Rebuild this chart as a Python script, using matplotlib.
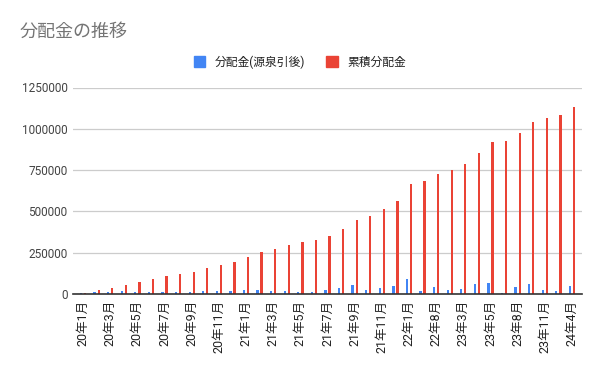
import matplotlib
matplotlib.use("Agg")
import matplotlib.pyplot as plt
from matplotlib.patches import Patch
import numpy as np

plt.rcParams['font.family'] = ['Roboto', 'Noto Sans CJK JP', 'DejaVu Sans']

categories = (
    [f"20年{m}月" for m in range(1, 13)]
    + [f"21年{m}月" for m in range(1, 13)]
    + ["22年1月", "22年4月", "22年8月", "22年12月", "23年3月", "23年4月",
       "23年5月", "23年7月", "23年8月", "23年10月", "23年11月", "24年1月", "24年4月"]
)

dividend = [6100, 12300, 12300, 18400, 12300, 12300, 12300, 12300, 12300, 18400,
            18400, 18400, 24600, 24600, 18400, 18400, 12300, 12300, 24600, 36900,
            55300, 24600, 36900, 49200, 92200, 18400, 43000, 24600, 30700, 61500,
            67600, 6100, 43000, 61500, 24600, 18400, 49200]

cumulative = [6000, 24600, 36900, 55300, 73800, 92200, 110600, 123000, 135200, 159800,
              178300, 196700, 221300, 252000, 270500, 295000, 313500, 325800, 350400, 393400,
              448700, 473300, 516300, 565500, 663900, 682300, 725300, 749900, 786800, 854400,
              922000, 928200, 977400, 1038800, 1063400, 1081900, 1131000]

yticks = [0, 250000, 500000, 750000, 1000000, 1250000]

BLUE = "#4285F4"
RED = "#EA4335"

fig = plt.figure(figsize=(6, 3.71), dpi=100)
ax = fig.add_axes([73/600, 1-294/371, (582-73)/600, (294-87.5)/371])

x = np.arange(len(categories))
w = 0.17
ax.bar(x - 0.15, dividend, width=w, color=BLUE, zorder=3)
ax.bar(x + 0.15, cumulative, width=w, color=RED, zorder=3)

ax.set_xlim(-0.74, len(categories) - 1 + 0.74)
ax.set_ylim(0, 1250000)
ax.set_yticks(yticks)
ax.set_yticklabels([str(v) for v in yticks], fontsize=8.5, color="#444444")
ax.yaxis.grid(True, color="#cccccc", linewidth=0.9, zorder=0)
ax.set_xticks(x)
ax.set_xticklabels([c if i % 2 == 0 else "" for i, c in enumerate(categories)],
                   rotation=90, fontsize=9, color="#222222")
ax.tick_params(axis='both', length=0, pad=4)
for s in ["top", "right", "left"]:
    ax.spines[s].set_visible(False)
ax.spines["bottom"].set_color("#333333")
ax.spines["bottom"].set_linewidth(1.2)
ax.spines["bottom"].set_zorder(4)

fig.text(20/600, 1-32/371, "分配金の推移", fontsize=13, color="#757575", va="center", ha="left")

handles = [Patch(color=BLUE, label="分配金(源泉引後)"), Patch(color=RED, label="累積分配金")]
fig.legend(handles=handles, loc="center", bbox_to_anchor=(0.5, 1-62/371), ncol=2,
           frameon=False, fontsize=8.5, handlelength=1.0, handleheight=1.0,
           handletextpad=0.8, columnspacing=1.8, labelcolor="#222222")

fig.savefig("out.png", dpi=100)
